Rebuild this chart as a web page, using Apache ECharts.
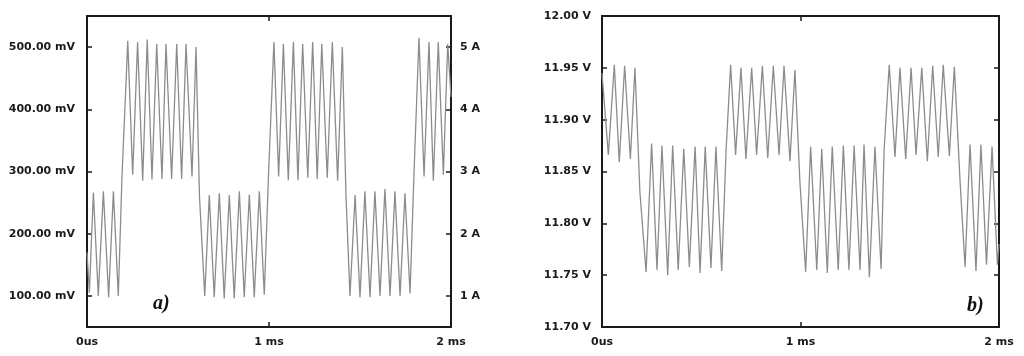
<!DOCTYPE html>
<html>
<head>
<meta charset="utf-8">
<script src="https://cdn.jsdelivr.net/npm/echarts@6/dist/echarts.min.js"></script>
<style>
html,body{margin:0;padding:0;background:#fff;}
#c{width:1024px;height:356px;}
</style>
</head>
<body>
<div id="c"></div>
<script>
// ---- data ----
const xTickValues = [0, 1, 2];
const xTickLabels = ['0us', '1 ms', '2 ms'];

// panel a) : time (ms) and voltage (mV)
const aTime = [0.000,0.013,0.035,0.062,0.090,0.119,0.145,0.172,0.192,0.224,0.251,0.278,0.306,0.331,0.357,0.383,0.412,0.434,0.465,0.493,0.520,0.544,0.577,0.599,0.618,0.647,0.672,0.699,0.727,0.754,0.782,0.809,0.837,0.864,0.892,0.919,0.947,0.974,0.998,1.027,1.053,1.079,1.106,1.134,1.159,1.185,1.213,1.240,1.265,1.290,1.320,1.348,1.377,1.403,1.423,1.445,1.473,1.500,1.527,1.555,1.582,1.610,1.637,1.665,1.692,1.720,1.747,1.775,1.797,1.824,1.852,1.879,1.903,1.930,1.958,1.982,2.000];
const aMilliVolt = [170,105,266,100,268,98,268,100,290,510,295,508,285,512,287,505,288,505,288,505,288,505,292,500,260,100,262,98,265,96,262,96,268,98,263,98,268,102,300,508,292,505,286,508,286,505,290,508,288,505,290,508,285,500,260,100,262,98,268,98,268,100,272,100,268,100,265,104,300,515,292,508,285,508,295,505,420];
const aLeftTicks = [100, 200, 300, 400, 500];
const aRightTicks = [1, 2, 3, 4, 5];

// panel b) : time (ms) and voltage (V)
const bTime = [0.000,0.032,0.062,0.087,0.114,0.143,0.166,0.191,0.222,0.250,0.277,0.302,0.331,0.356,0.384,0.412,0.440,0.469,0.494,0.520,0.549,0.574,0.603,0.625,0.648,0.673,0.700,0.725,0.754,0.779,0.808,0.835,0.863,0.892,0.917,0.947,0.972,0.997,1.026,1.051,1.082,1.107,1.135,1.160,1.190,1.216,1.244,1.270,1.300,1.320,1.347,1.375,1.406,1.421,1.447,1.476,1.501,1.530,1.557,1.582,1.611,1.639,1.666,1.694,1.719,1.750,1.775,1.804,1.829,1.854,1.884,1.909,1.937,1.965,1.992,2.000];
const bVolt = [11.945,11.866,11.953,11.859,11.952,11.862,11.950,11.830,11.753,11.877,11.755,11.875,11.750,11.875,11.755,11.872,11.758,11.874,11.752,11.874,11.757,11.874,11.754,11.870,11.953,11.866,11.950,11.862,11.950,11.866,11.952,11.863,11.952,11.866,11.952,11.860,11.948,11.840,11.753,11.874,11.755,11.872,11.752,11.874,11.755,11.875,11.755,11.875,11.755,11.876,11.748,11.874,11.756,11.870,11.953,11.864,11.950,11.862,11.950,11.866,11.950,11.860,11.952,11.864,11.953,11.865,11.951,11.840,11.758,11.876,11.754,11.876,11.760,11.874,11.760,11.780];
const bLeftTicks = [11.70, 11.75, 11.80, 11.85, 11.90, 11.95, 12.00];
const bInnerTicks = [11.75, 11.80, 11.85, 11.90, 11.95];

// ---- build ----
const aData = aTime.map((t, i) => [t, aMilliVolt[i]]);
const bData = bTime.map((t, i) => [t, bVolt[i]]);

const FRAME = '#1a1a1a';
const TXT = '#1a1a1a';
const FONT = 'DejaVu Sans';
const lineAxis = { show: true, onZero: false, lineStyle: { color: FRAME, width: 2 } };
const tickIn = (vals) => ({ show: true, inside: true, length: 5, lineStyle: { color: FRAME, width: 1.5 }, customValues: vals });
const lab = (extra) => Object.assign({ color: TXT, fontFamily: FONT, fontWeight: 'bold', fontSize: 11 }, extra);

function xAxes(gi) {
  return [
    { gridIndex: gi, type: 'value', position: 'bottom', min: 0, max: 2, interval: 1,
      axisLine: lineAxis, splitLine: { show: false },
      axisTick: tickIn(xTickValues),
      axisLabel: lab({ margin: 10, customValues: xTickValues,
        formatter: v => xTickLabels[xTickValues.indexOf(Math.round(v))] }) },
    { gridIndex: gi, type: 'value', position: 'top', min: 0, max: 2, interval: 1,
      axisLine: lineAxis, splitLine: { show: false },
      axisTick: tickIn(xTickValues), axisLabel: { show: false } }
  ];
}

const option = {
  animation: false,
  backgroundColor: '#ffffff',
  grid: [
    { left: 87, top: 16, width: 364, height: 311 },
    { left: 602, top: 16, width: 397, height: 311 }
  ],
  xAxis: [...xAxes(0), ...xAxes(1)],
  yAxis: [
    { gridIndex: 0, type: 'value', position: 'left', min: 50, max: 550,
      axisLine: lineAxis, splitLine: { show: false },
      axisTick: tickIn(aLeftTicks),
      axisLabel: lab({ margin: 12, customValues: aLeftTicks, formatter: v => v.toFixed(2) + ' mV' }) },
    { gridIndex: 0, type: 'value', position: 'right', min: 0.5, max: 5.5,
      axisLine: lineAxis, splitLine: { show: false },
      axisTick: tickIn(aRightTicks),
      axisLabel: lab({ margin: 9, customValues: aRightTicks, formatter: v => Math.round(v) + ' A' }) },
    { gridIndex: 1, type: 'value', position: 'left', min: 11.70, max: 12.00,
      axisLine: lineAxis, splitLine: { show: false },
      axisTick: tickIn(bInnerTicks),
      axisLabel: lab({ margin: 11, customValues: bLeftTicks, formatter: v => v.toFixed(2) + ' V' }) },
    { gridIndex: 1, type: 'value', position: 'right', min: 11.70, max: 12.00,
      axisLine: lineAxis, splitLine: { show: false },
      axisTick: tickIn(bInnerTicks), axisLabel: { show: false } }
  ],
  series: [
    { type: 'line', xAxisIndex: 0, yAxisIndex: 0, data: aData, showSymbol: false, silent: true,
      lineStyle: { color: '#8c8c8c', width: 1.3 } },
    { type: 'line', xAxisIndex: 2, yAxisIndex: 2, data: bData, showSymbol: false, silent: true,
      lineStyle: { color: '#8c8c8c', width: 1.3 } }
  ],
  graphic: [
    { type: 'text', left: 153, top: 294, style: { text: 'a)', fill: '#111',
      font: 'italic bold 20px "Liberation Serif", serif' } },
    { type: 'text', left: 967, top: 296, style: { text: 'b)', fill: '#111',
      font: 'italic bold 20px "Liberation Serif", serif' } }
  ]
};

const chart = echarts.init(document.getElementById('c'), null, { renderer: 'canvas' });
chart.setOption(option);
</script>
</body>
</html>
